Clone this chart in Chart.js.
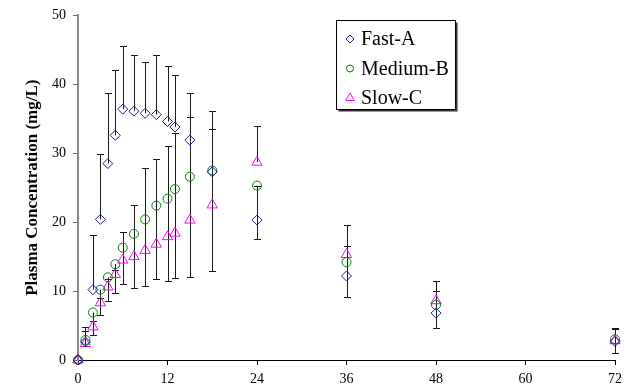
<!DOCTYPE html>
<html><head><meta charset="utf-8">
<script src="https://cdn.jsdelivr.net/npm/chart.js@4/dist/chart.umd.min.js"></script>
<style>html,body{margin:0;padding:0;background:#fff}</style>
</head><body>
<canvas id="c" width="641" height="387"></canvas>
<script>
// Sampling times (h)
const times = [0, 1, 2, 3, 4, 5, 6, 7.5, 9, 10.5, 12, 13, 15, 18, 24, 36, 48, 72];
// Mean plasma concentrations (mg/L)
const fast   = [0, 2.6, 10.2, 20.4, 28.5, 32.6, 36.4, 36.1, 35.8, 35.6, 34.6, 33.8, 31.9, 27.3, 20.3, 12.2, 6.8, 2.7];
const medium = [0, 2.9, 6.9, 10.2, 12.0, 13.9, 16.3, 18.3, 20.4, 22.4, 23.4, 24.8, 26.6, 27.5, 25.3, 14.2, 8.0, 3.0];
const slow   = [0, 2.4, 4.8, 8.3, 10.6, 12.4, 14.5, 15.0, 15.9, 16.8, 17.9, 18.4, 20.3, 22.5, 28.7, 15.3, 8.6, 2.8];
// Standard deviations (Fast-A and Slow-C drawn upward, Medium-B drawn downward)
const fastSD   = [0, 2.2, 8.0, 9.5, 10.2, 9.5, 9.1, 8.1, 7.5, 8.7, 8.1, 7.5, 6.8, 6.2, 5.0, 4.3, 3.2, 1.8];
const mediumSD = [0, 0.9, 3.3, 3.6, 3.4, 4.2, 5.3, 7.9, 9.6, 10.7, 12.0, 12.9, 14.5, 14.6, 7.7, 5.1, 3.4, 2.0];
const slowSD   = [0, 1.8, 0.8, 0.7, 1.2, 0.6, 4.0, 7.5, 11.9, 12.4, 13.2, 14.6, 14.9, 13.6, 5.2, 4.3, 2.8, 1.9];
// Axis ticks
const xTicks = [0, 12, 24, 36, 48, 60, 72];
const yTicks = [0, 10, 20, 30, 40, 50];
const seriesNames = ['Fast-A', 'Medium-B', 'Slow-C'];

const FONT = "'Liberation Serif','Times New Roman',serif";
const COLORS = ['#1c1c9c', '#008000', '#ff00ff'];
const STYLES = ['rectRot', 'circle', 'triangle'];
const RADII = [5, 4.5, 6];

const errorBars = {
  id: 'errorBars',
  beforeDatasetsDraw(chart) {
    const {ctx, scales: {x, y}} = chart;
    ctx.save();
    ctx.strokeStyle = '#1a1a1a';
    ctx.lineWidth = 1;
    const cap = 3.5;
    const sets = [[fast, fastSD, 1], [medium, mediumSD, -1], [slow, slowSD, 1]];
    sets.forEach(([vals, sd, dir]) => {
      times.forEach((t, i) => {
        if (!sd[i]) return;
        const px = Math.round(x.getPixelForValue(t)) + 0.5;
        const y0 = y.getPixelForValue(vals[i]);
        const y1 = Math.round(y.getPixelForValue(vals[i] + dir * sd[i])) + 0.5;
        ctx.beginPath();
        ctx.moveTo(px, y0); ctx.lineTo(px, y1);
        ctx.moveTo(px - cap, y1); ctx.lineTo(px + cap, y1);
        ctx.stroke();
      });
    });
    ctx.restore();
  }
};

const legendBox = {
  id: 'legendBox',
  afterDraw(chart) {
    const ctx = chart.ctx;
    const bx = 336.5, by = 20.5, bw = 119, bh = 89;
    ctx.save();
    ctx.fillStyle = '#333';
    ctx.fillRect(bx + 2, by + 2, bw, bh);
    ctx.fillStyle = '#fff';
    ctx.fillRect(bx, by, bw, bh);
    ctx.strokeStyle = '#000';
    ctx.lineWidth = 1;
    ctx.strokeRect(bx, by, bw, bh);
    const rows = [39, 68.5, 98];
    chart.data.datasets.forEach((ds, i) => {
      ctx.strokeStyle = COLORS[i];
      ctx.fillStyle = 'rgba(0,0,0,0)';
      ctx.lineWidth = 1;
      Chart.helpers.drawPoint(ctx, {pointStyle: STYLES[i], radius: RADII[i] - 1, rotation: 0, borderWidth: 1}, 350, rows[i]);
      ctx.fillStyle = '#000';
      ctx.font = "20px " + FONT;
      ctx.textBaseline = 'middle';
      ctx.textAlign = 'left';
      ctx.fillText(ds.label, 361, rows[i] + 1);
    });
    ctx.restore();
  }
};

const seriesVals = [fast, medium, slow];
const datasets = seriesNames.map((name, i) => ({
  label: name,
  data: times.map((t, j) => ({x: t, y: seriesVals[i][j]})),
  pointStyle: STYLES[i],
  pointRadius: RADII[i],
  pointBorderWidth: 1,
  borderColor: COLORS[i],
  backgroundColor: 'rgba(0,0,0,0)',
  showLine: false,
  clip: false
}));

new Chart(document.getElementById('c'), {
  type: 'scatter',
  data: {datasets},
  plugins: [errorBars, legendBox],
  options: {
    responsive: false,
    animation: false,
    devicePixelRatio: 1,
    layout: {padding: {top: 12, right: 26, bottom: 0, left: 0}},
    plugins: {legend: {display: false}, tooltip: {enabled: false}},
    scales: {
      x: {
        type: 'linear', min: xTicks[0], max: xTicks[xTicks.length - 1],
        afterBuildTicks(s) { s.ticks = xTicks.map(v => ({value: v})); },
        ticks: {color: '#000', font: {family: FONT, size: 14}, padding: 6},
        grid: {drawOnChartArea: false, drawTicks: true, tickLength: 5, color: '#000'},
        border: {color: '#000', width: 1},
        afterFit(s) { s.height = 27; }
      },
      y: {
        min: yTicks[0], max: yTicks[yTicks.length - 1],
        afterBuildTicks(s) { s.ticks = yTicks.map(v => ({value: v})); },
        ticks: {color: '#000', font: {family: FONT, size: 14}, padding: 7},
        grid: {drawOnChartArea: false, drawTicks: true, tickLength: 5, color: '#666'},
        border: {color: '#888', width: 2},
        title: {display: true, text: 'Plasma Concentration (mg/L)', color: '#000',
                font: {family: FONT, size: 17, weight: 'bold'}, padding: {top: 22, bottom: 0}},
        afterFit(s) { s.width = 78; }
      }
    }
  }
});
</script>
</body></html>
